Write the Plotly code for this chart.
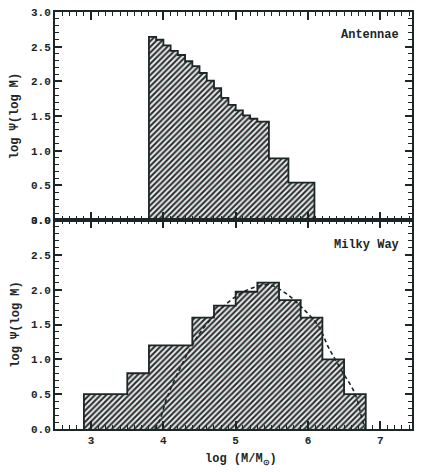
import plotly.graph_objects as go
from plotly.subplots import make_subplots

# ---------------- data ----------------
# Antennae histogram: bin edges (log M) and heights (log Psi)
ant_edges = [3.80, 3.90, 4.00, 4.10, 4.20, 4.30, 4.40, 4.50, 4.60, 4.70, 4.80,
             4.90, 5.00, 5.10, 5.20, 5.30, 5.46, 5.73, 6.09]
ant_vals = [2.64, 2.60, 2.52, 2.44, 2.38, 2.29, 2.22, 2.12, 2.01, 1.90, 1.76,
            1.66, 1.58, 1.51, 1.46, 1.42, 0.89, 0.54]

# Milky Way histogram
mw_edges = [2.90, 3.20, 3.50, 3.80, 4.10, 4.40, 4.70, 5.00, 5.30, 5.60, 5.90,
            6.20, 6.50, 6.80]
mw_vals = [0.50, 0.50, 0.80, 1.20, 1.20, 1.60, 1.77, 1.97, 2.10, 1.85, 1.60,
           1.00, 0.50]

# Milky Way model curve (dashed)
mw_fit_x = [3.88, 3.95, 4.05, 4.22, 4.36, 4.52, 4.75, 5.00, 5.22, 5.46, 5.69,
            5.91, 6.15, 6.28, 6.46, 6.65, 6.74, 6.79]
mw_fit_y = [0.00, 0.13, 0.45, 0.85, 1.13, 1.40, 1.68, 1.90, 2.02, 2.07, 1.95,
            1.75, 1.47, 1.18, 0.85, 0.51, 0.18, 0.00]

panel_labels = ["Antennae", "Milky Way"]
y_ticks = [0.0, 0.5, 1.0, 1.5, 2.0, 2.5, 3.0]
x_ticks = [3, 4, 5, 6, 7]

# ---------------- style ----------------
INK = "#1c2626"
HATCH = "#1c3333"
HATCH_BG = "#f7e6e6"
FONT = "Liberation Mono"

fig = make_subplots(rows=2, cols=1, shared_xaxes=True, vertical_spacing=0)


def add_hist(edges, vals, row):
    centers = [(edges[i] + edges[i + 1]) / 2 for i in range(len(vals))]
    widths = [edges[i + 1] - edges[i] for i in range(len(vals))]
    fig.add_trace(go.Bar(
        x=centers, y=vals, width=widths,
        marker=dict(color=HATCH_BG, line=dict(width=0),
                    pattern=dict(shape="/", size=4, solidity=0.5,
                                 fgcolor=HATCH, bgcolor=HATCH_BG,
                                 fillmode="replace")),
        showlegend=False, hoverinfo="skip"), row=row, col=1)
    ox = [edges[0]] + edges[:len(vals)] + [edges[-1], edges[-1]]
    oy = [0] + vals + [vals[-1], 0]
    fig.add_trace(go.Scatter(
        x=ox, y=oy, mode="lines", line=dict(color=INK, width=1.8, shape="hv"),
        showlegend=False, hoverinfo="skip"), row=row, col=1)


add_hist(ant_edges, ant_vals, 1)
add_hist(mw_edges, mw_vals, 2)

fig.add_trace(go.Scatter(
    x=mw_fit_x, y=mw_fit_y, mode="lines",
    line=dict(color=INK, width=1.6, dash="4px,3px", shape="spline"),
    showlegend=False, hoverinfo="skip"), row=2, col=1)

axis_common = dict(
    showline=True, linewidth=2, linecolor=INK, mirror="ticks",
    ticks="inside", tickcolor=INK, tickwidth=1.5,
    showgrid=False, zeroline=False,
    tickfont=dict(family=FONT, size=11, color=INK, weight="bold"),
)

for r in (1, 2):
    fig.update_yaxes(range=[0, 3.0], tickvals=y_ticks,
                     ticktext=[f"{v:.1f}" for v in y_ticks], ticklen=7,
                     minor=dict(dtick=0.1, ticklen=4, tickcolor=INK,
                                ticks="inside", tickwidth=1.2),
                     row=r, col=1, **axis_common)
    fig.update_xaxes(range=[2.5, 7.44], tickvals=x_ticks, ticklen=8,
                     minor=dict(dtick=0.1, ticklen=4, tickcolor=INK,
                                ticks="inside", tickwidth=1.2),
                     row=r, col=1, **axis_common)

fig.update_xaxes(showticklabels=False, row=1, col=1)
fig.update_xaxes(showticklabels=True, row=2, col=1)

bottom_frac = 209 / 417
fig.update_layout(
    width=421, height=472,
    margin=dict(l=55, r=7, t=12, b=43),
    paper_bgcolor="white", plot_bgcolor="white",
    bargap=0,
    yaxis=dict(domain=[bottom_frac, 1.0]),
    yaxis2=dict(domain=[0.0, bottom_frac]),
    font=dict(family=FONT, color=INK),
)

# panel labels
fig.add_annotation(text=panel_labels[0], xref="x domain", yref="y domain",
                   x=0.97, y=0.89, xanchor="right", yanchor="middle",
                   showarrow=False,
                   font=dict(family=FONT, size=12, color=INK, weight="bold"))
fig.add_annotation(text=panel_labels[1], xref="x2 domain", yref="y2 domain",
                   x=0.97, y=0.88, xanchor="right", yanchor="middle",
                   showarrow=False,
                   font=dict(family=FONT, size=12, color=INK, weight="bold"))

# axis titles
ytitle = "log \u03a8(log M)"
fig.add_annotation(text=ytitle, xref="paper", yref="y domain",
                   x=(15 - 55) / 359, y=0.5, textangle=-90,
                   xanchor="center", yanchor="middle", showarrow=False,
                   font=dict(family=FONT, size=12, color=INK, weight="bold"))
fig.add_annotation(text=ytitle, xref="paper", yref="y2 domain",
                   x=(15 - 55) / 359, y=0.5, textangle=-90,
                   xanchor="center", yanchor="middle", showarrow=False,
                   font=dict(family=FONT, size=12, color=INK, weight="bold"))
fig.add_annotation(text="log (M/M<sub>\u2299</sub>)", xref="paper", yref="paper",
                   x=(242 - 55) / 359, y=-(460 - 429) / 417,
                   xanchor="center", yanchor="middle", showarrow=False,
                   font=dict(family=FONT, size=12, color=INK, weight="bold"))

fig.write_html("out.html")
